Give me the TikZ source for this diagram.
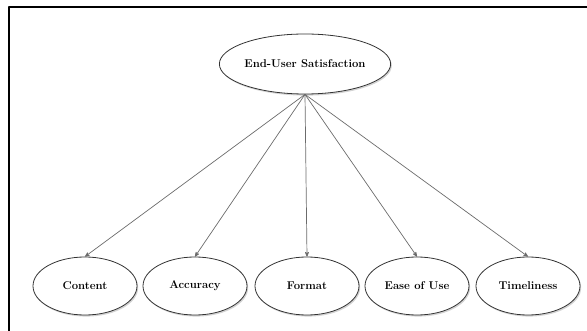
\documentclass[tikz,border=0pt]{standalone}
\usetikzlibrary{arrows,shapes.geometric,shadows}
\definecolor{linegray}{rgb}{0.42,0.42,0.42}
\definecolor{rimgray}{rgb}{0.2,0.2,0.2}
\tikzset{
  factor/.style={ellipse,draw=rimgray,fill=white,line width=0.8pt,
    minimum width=104pt,minimum height=58pt,inner sep=0pt,
    font=\bfseries\fontsize{11.3}{13}\selectfont,
    drop shadow={opacity=0.35,shadow xshift=1.2pt,shadow yshift=-1.6pt}},
  link/.style={->,draw=linegray,line width=0.7pt}
}

\begin{document}
\begin{tikzpicture}[line cap=round,line join=round,>=stealth',x=1pt,y=-1pt]
\useasboundingbox (0,0) rectangle (587,331);
\draw [line width=2.pt] (9,331)-- (9,7)-- (587,7);
% construct
\node[factor,minimum width=152pt,minimum height=60pt] (esat) at (305,64) {End-User Satisfaction};
% dimensions
\node[factor] (content) at (85,286) {Content};
\node[factor] (accuracy) at (195,286) {Accuracy};
\node[factor] (format) at (307,286) {Format};
\node[factor] (ease) at (417,286) {Ease of Use};
\node[factor] (time) at (528,286) {Timeliness};
\foreach \d in {content,accuracy,format,ease,time}
  \draw[link] (esat.south) -- (\d.north);
\end{tikzpicture}
\end{document}
